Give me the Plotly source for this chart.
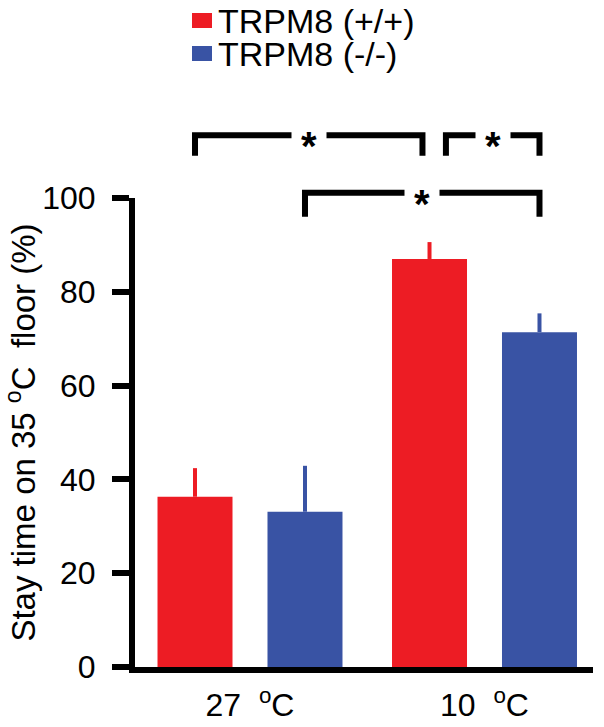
import plotly.graph_objects as go

# ---------------- data ----------------
categories = ["27\u00a0\u00a0<sup>o</sup>C", "10\u00a0\u00a0<sup>o</sup>C"]
series_names = ["TRPM8 (+/+)", "TRPM8 (-/-)"]
wt_values = [36.3, 87.0]
wt_errors = [6.1, 3.6]
ko_values = [33.1, 71.4]
ko_errors = [9.8, 4.0]
y_ticks = [0, 20, 40, 60, 80, 100]
y_title = "Stay time on 35 <sup>o</sup>C\u00a0 floor (%)"
# significance brackets: (group, series) -> (group, series), bar height, leg end
brackets = [
    ((0, 0), (1, 0), 113.4, 109.0),
    ((1, 0), (1, 1), 113.4, 109.0),
    ((0, 1), (1, 1), 101.1, 96.0),
]
sig_label = "*"

# ---------------- style ----------------
W, H = 604, 727
ML, MR, MT, MB = 135, 11, 198, 60
RED = "#ED1C24"
BLUE = "#3953A4"
FONT = "Liberation Sans, Arial, Helvetica, sans-serif"
LW = 6
BARGAP = 0.062
BARGROUPGAP = 0.318
GROUP_PX = 234.5      # pixel spacing between category centres
G0_PX = 250.0         # pixel x of first category centre
plot_w = W - ML - MR
plot_h = H - MT - MB
x_range = [(ML - G0_PX) / GROUP_PX, (W - MR - G0_PX) / GROUP_PX]
y_range = [0, 100]

def px_to_paper_x(px):
    return (px - ML) / plot_w

def px_to_paper_y(py):
    return (H - MB - py) / plot_h

xpos = list(range(len(categories)))
slot = (1 - BARGAP) / 2
offsets = [-slot / 2, slot / 2]

fig = go.Figure()
for name, vals, errs, col in [
    (series_names[0], wt_values, wt_errors, RED),
    (series_names[1], ko_values, ko_errors, BLUE),
]:
    fig.add_trace(go.Bar(
        x=xpos, y=vals, name=name, marker=dict(color=col, line=dict(width=0)),
        error_y=dict(type="data", array=errs, arrayminus=[0] * len(errs),
                     symmetric=False, width=0, thickness=4, color=col),
        showlegend=False,
    ))

shapes = []
annotations = []
for (ga, sa), (gb, sb), top, leg in brackets:
    xa = xpos[ga] + offsets[sa]
    xb = xpos[gb] + offsets[sb]
    # shared bar end: nudge apart
    if (ga, sa) == (1, 0):
        xa += 0.07
    if (gb, sb) == (1, 0):
        xb -= 0.03
    ty = top / (y_range[1] - y_range[0])
    ly = leg / (y_range[1] - y_range[0])
    shapes.append(dict(type="path", xref="x", yref="paper",
                       path=f"M {xa},{ly} L {xa},{ty} L {xb},{ty} L {xb},{ly}",
                       line=dict(color="black", width=LW)))
    annotations.append(dict(x=(xa + xb) / 2, y=ty, xref="x", yref="paper",
                            text=f"<b>{sig_label}</b>", showarrow=False,
                            font=dict(family=FONT, size=40, color="black"),
                            bgcolor="white", borderpad=9, yshift=-11,
                            xanchor="center", yanchor="middle"))

# custom legend
for i, (name, col) in enumerate([(series_names[0], RED), (series_names[1], BLUE)]):
    cy = 21 + 33 * i
    shapes.append(dict(type="rect", xref="paper", yref="paper",
                       x0=px_to_paper_x(192), x1=px_to_paper_x(212),
                       y0=px_to_paper_y(cy - 8), y1=px_to_paper_y(cy + 7),
                       fillcolor=col, line=dict(width=0)))
    annotations.append(dict(x=px_to_paper_x(216), y=px_to_paper_y(cy),
                            xref="paper", yref="paper", text=name,
                            showarrow=False, xanchor="left", yanchor="middle",
                            font=dict(family=FONT, size=34, color="black")))

fig.update_layout(
    width=W, height=H,
    margin=dict(l=ML, r=MR, t=MT, b=MB, pad=0),
    paper_bgcolor="white", plot_bgcolor="white",
    barmode="group", bargap=BARGAP, bargroupgap=BARGROUPGAP,
    font=dict(family=FONT, size=30, color="black"),
    shapes=shapes, annotations=annotations,
    xaxis=dict(range=x_range, tickmode="array", tickvals=xpos, ticktext=categories,
               showline=True, linecolor="black", linewidth=LW, ticks="",
               showgrid=False, zeroline=False, tickfont=dict(size=32),
               ticklabelstandoff=5, automargin=False),
    yaxis=dict(range=y_range, tickmode="array", tickvals=y_ticks,
               showline=True, linecolor="black", linewidth=LW,
               ticks="outside", ticklen=17, tickwidth=LW, tickcolor="black",
               showgrid=False, zeroline=False, tickfont=dict(size=32),
               ticklabelstandoff=10, automargin=False,
               title=dict(text=y_title, font=dict(size=33), standoff=12)),
)

fig.write_html("out.html", config={"displayModeBar": False},
               post_script="document.body.style.margin='0';")
